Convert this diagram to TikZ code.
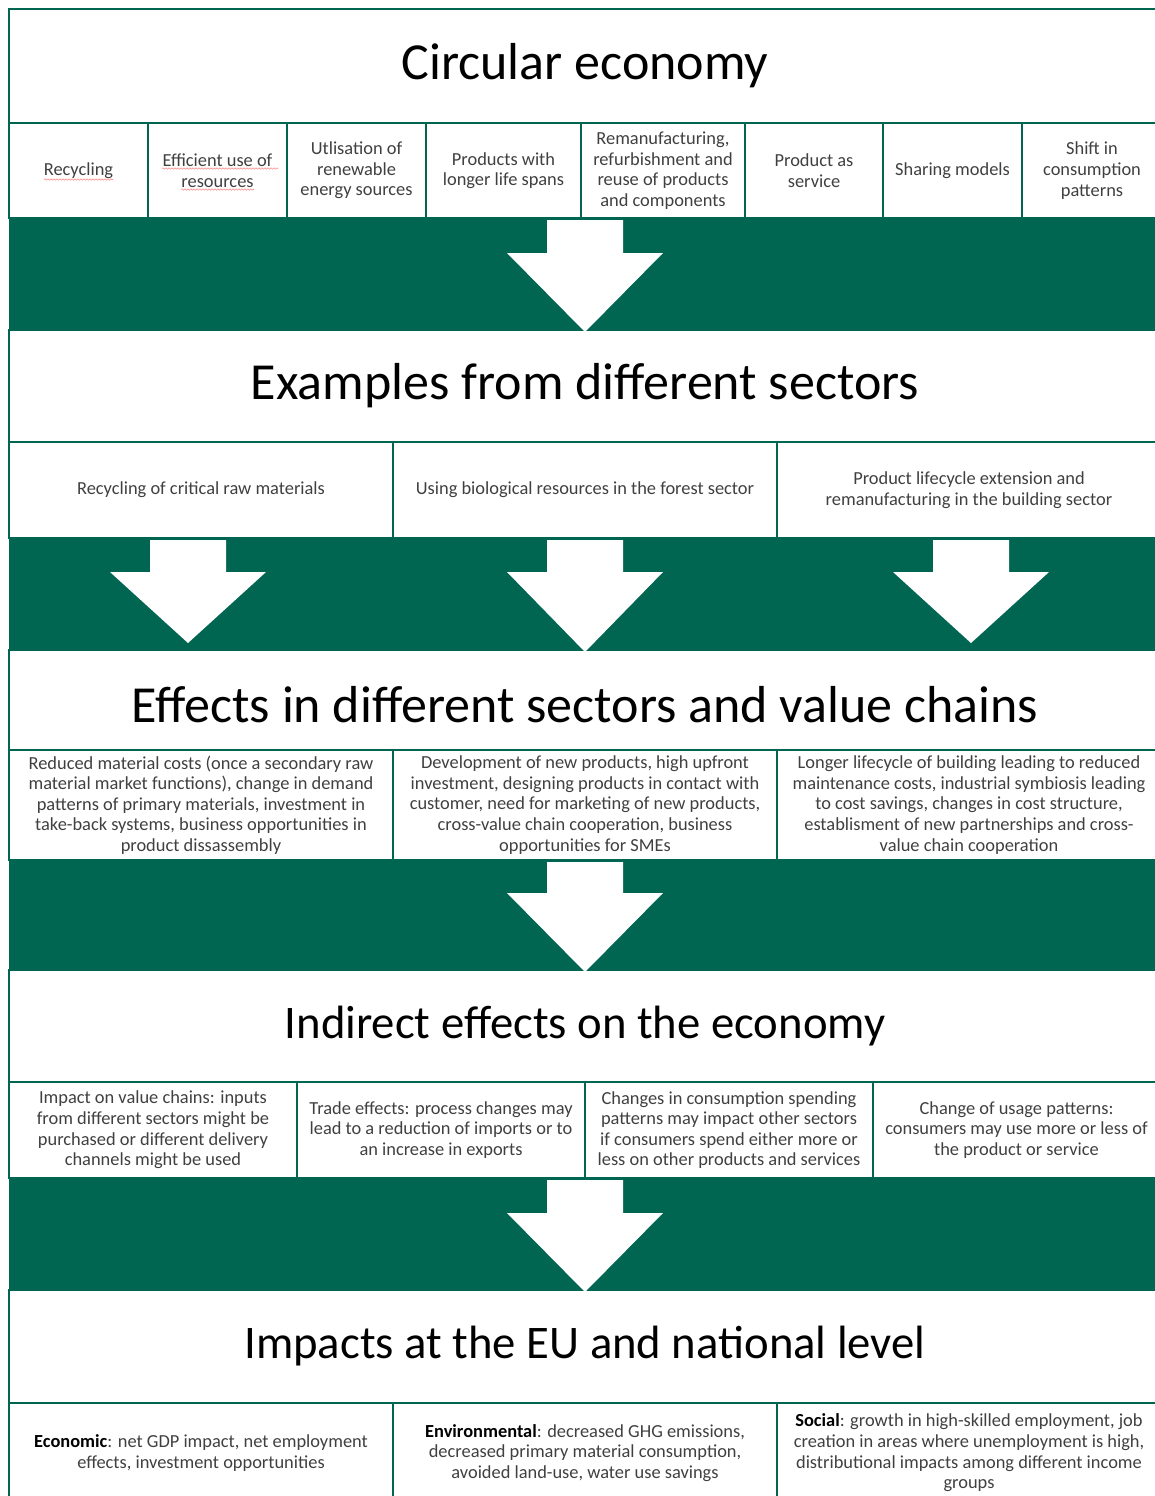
\documentclass[tikz,border=0pt]{standalone}
\usepackage{fontspec}
\setmainfont{Carlito}
\usetikzlibrary{decorations.pathmorphing}
\definecolor{eg}{RGB}{0,102,81}
\newcommand\flowarrow[4]{% cx, top, head y, tip y
  \fill[white] (#1-38,#2) -- (#1+38,#2) -- (#1+38,#3) -- (#1+78,#3) -- (#1,#4) -- (#1-78,#3) -- (#1-38,#3) -- cycle;}
\begin{document}
\begin{tikzpicture}[x=1pt,y=-1pt,
  cellbox/.style={draw=eg, line width=2pt, fill=white, align=center, text=black!75,
    font=\fontsize{18.4}{20.6}\selectfont, inner sep=0pt},
  titlebox/.style={draw=eg, line width=2.4pt, fill=white, inner sep=0pt},
  titletext/.style={font=\fontsize{52}{60}\selectfont, text=black, inner sep=0pt},
  smalltitle/.style={titletext, font=\fontsize{46.7}{54}\selectfont},
  band/.style={fill=eg},
  spell/.style={draw=red!45, line width=0.6pt, decorate, decoration={snake, amplitude=0.7pt, segment length=3pt}}
]
\useasboundingbox (0,0) rectangle (1155,1496);

% green bands
\fill[band] (9,218) rectangle (1160,330);
\fill[band] (9,538) rectangle (1160,650);
\fill[band] (9,860) rectangle (1160,970);
\fill[band] (9,1178) rectangle (1160,1290);

% ---- level 1
\node[titlebox, minimum width=1151, minimum height=114] (T1) at (584.5,66) {};
\node[titletext] (T1t) at (585,66) {Circular economy};
\node[cellbox, minimum width=139, minimum height=95] (a1) at (78.5,170.5) {Recycling};
\node[cellbox, minimum width=139, minimum height=95] (a2) at (217.5,170.5) {Efficient use of\\resources};
\node[cellbox, minimum width=139, minimum height=95] (a3) at (356.5,170.5) {Utlisation of\\renewable\\energy sources};
\node[cellbox, minimum width=155, minimum height=95] (a4) at (503.5,170.5) {Products with\\longer life spans};
\node[cellbox, minimum width=164, minimum height=95] (a5) at (663,170.5) {Remanufacturing,\\refurbishment and\\reuse of products\\and components};
\node[cellbox, minimum width=138, minimum height=95] (a6) at (814,170.5) {Product as\\service};
\node[cellbox, minimum width=139, minimum height=95] (a7) at (952.5,170.5) {Sharing models};
\node[cellbox, minimum width=140, minimum height=95] (a8) at (1092,170.5) {Shift in\\consumption\\patterns};
\draw[spell] (44,179.5) -- (113,179.5);
\draw[spell] (162,168.5) -- (278,168.5);
\draw[spell] (181,189.5) -- (254,189.5);

% ---- level 2
\node[titlebox, minimum width=1151, minimum height=112] (T2) at (584.5,386) {};
\node[titletext] (T2t) at (585,386) {Examples from different sectors};
\node[cellbox, minimum width=384, minimum height=96] (b1) at (201,490) {Recycling of critical raw materials};
\node[cellbox, minimum width=384, minimum height=96] (b2) at (585,490) {Using biological resources in the forest sector};
\node[cellbox, minimum width=384, minimum height=96] (b3) at (969,490) {Product lifecycle extension and\\remanufacturing in the building sector};

% ---- level 3
\node[titlebox, minimum width=1151, minimum height=100] (T3) at (584.5,700) {};
\node[titletext] (T3t) at (585,705) {Effects in different sectors and value chains};
\node[cellbox, minimum width=384, minimum height=110] (c1) at (201,805) {Reduced material costs (once a secondary raw\\material market functions), change in demand\\patterns of primary materials, investment in\\take-back systems, business opportunities in\\product dissassembly};
\node[cellbox, minimum width=384, minimum height=110] (c2) at (585,805) {Development of new products, high upfront\\investment, designing products in contact with\\customer, need for marketing of new products,\\cross-value chain cooperation, business\\opportunities for SMEs};
\node[cellbox, minimum width=384, minimum height=110] (c3) at (969,805) {Longer lifecycle of building leading to reduced\\maintenance costs, industrial symbiosis leading\\to cost savings, changes in cost structure,\\establisment of new partnerships and cross-\\value chain cooperation};

% ---- level 4
\node[titlebox, minimum width=1151, minimum height=112] (T4) at (584.5,1026) {};
\node[smalltitle] (T4t) at (585,1026) {Indirect effects on the economy};
\node[cellbox, minimum width=288, minimum height=96] (d1) at (153,1130) {Impact on value chains: inputs\\from different sectors might be\\purchased or different delivery\\channels might be used};
\node[cellbox, minimum width=288, minimum height=96] (d2) at (441,1130) {Trade effects: process changes may\\lead to a reduction of imports or to\\an increase in exports};
\node[cellbox, minimum width=288, minimum height=96] (d3) at (729,1130) {Changes in consumption spending\\patterns may impact other sectors\\if consumers spend either more or\\less on other products and services};
\node[cellbox, minimum width=287, minimum height=96] (d4) at (1016.5,1130) {Change of usage patterns:\\consumers may use more or less of\\the product or service};

% ---- level 5
\node[titlebox, minimum width=1151, minimum height=113] (T5) at (584.5,1346.5) {};
\node[smalltitle] (T5t) at (585,1346) {Impacts at the EU and national level};
\node[cellbox, minimum width=384, minimum height=100] (e1) at (201,1453) {\textcolor{black}{\textbf{Economic}}: net GDP impact, net employment\\effects, investment opportunities};
\node[cellbox, minimum width=384, minimum height=100] (e2) at (585,1453) {\textcolor{black}{\textbf{Environmental}}: decreased GHG emissions,\\decreased primary material consumption,\\avoided land-use, water use savings};
\node[cellbox, minimum width=384, minimum height=100] (e3) at (969,1453) {\textcolor{black}{\textbf{Social}}: growth in high-skilled employment, job\\creation in areas where unemployment is high,\\distributional impacts among different income\\groups};

% arrows
\flowarrow{585}{220}{253}{332}
\flowarrow{188}{540}{572}{643}
\flowarrow{585}{540}{572}{652}
\flowarrow{971}{540}{572}{643}
\flowarrow{585}{862}{893}{972}
\flowarrow{585}{1180}{1213}{1292}
\end{tikzpicture}
\end{document}
